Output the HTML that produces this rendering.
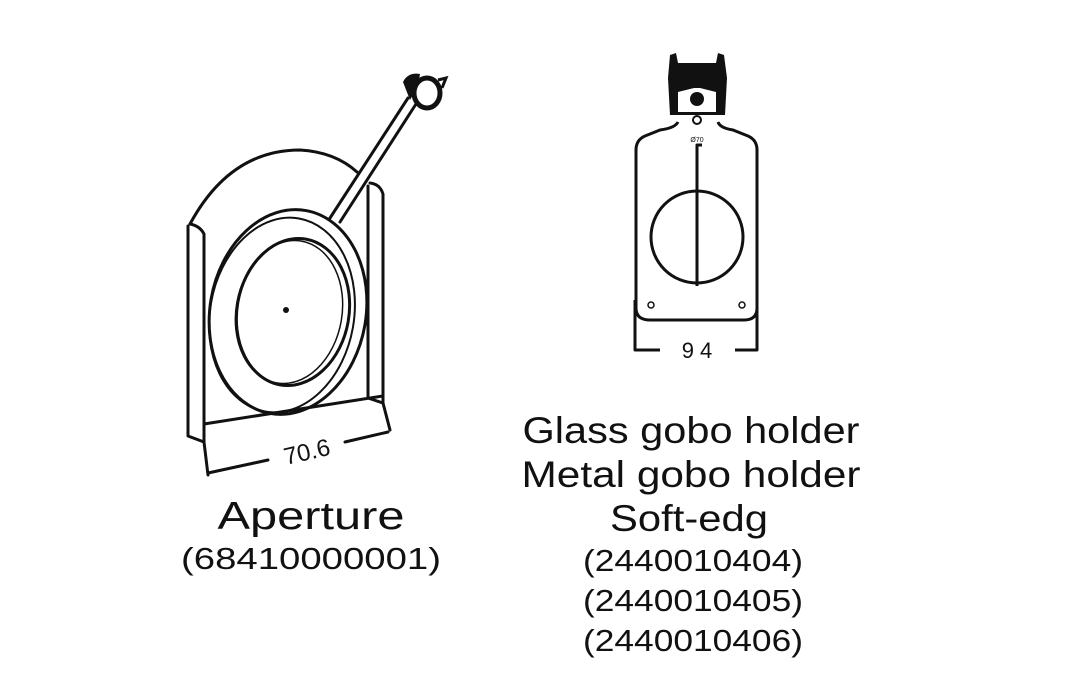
<!DOCTYPE html>
<html><head><meta charset="utf-8"><style>
html,body{margin:0;padding:0;background:#fff;}
svg{display:block;}
text{font-family:"Liberation Sans",sans-serif;fill:#111;}
</style></head><body>
<svg width="1067" height="680" viewBox="0 0 1067 680" xmlns="http://www.w3.org/2000/svg">
<g fill="none" stroke="#111" stroke-width="3" stroke-linejoin="round" stroke-linecap="round">
  <path d="M190,224 Q230,150 300,150 Q335,152 357,172"/>
  <path d="M188,226 L188,436 L204,442 L204,234 Q200,226 190,224"/>
  <path d="M368,186 L368,398 L383,403 L383,194 Q380,184 370,183"/>
  <path d="M204,424 L383,396"/>
  <ellipse cx="288" cy="312" rx="78" ry="103" transform="rotate(10 288 312)"/>
  <ellipse cx="282" cy="315" rx="72" ry="98" transform="rotate(10 282 315)" stroke-width="2"/>
  <ellipse cx="293" cy="312" rx="56" ry="74" transform="rotate(10 293 312)"/>
  <ellipse cx="289" cy="312" rx="53" ry="72" transform="rotate(10 289 312)" stroke-width="1.5"/>
  <path d="M330,218 L408,98"/>
  <path d="M340,222 L416,104"/>
  <path d="M204,442 L208,475"/>
  <path d="M383,403 L390,430"/>
  <path d="M208,473 L268,460"/>
  <path d="M345,442 L388,432"/>
</g>
<circle cx="286" cy="310" r="3" fill="#111"/>
<path d="M403,82 Q408,72 420,74 L418,86 L410,100 Z" fill="#111"/>
<ellipse cx="427" cy="93" rx="13" ry="15" fill="none" stroke="#111" stroke-width="5"/>
<path d="M438,80 L446,78 L442,88" fill="none" stroke="#111" stroke-width="3"/>
<text x="307" y="460" font-size="24" text-anchor="middle" transform="rotate(-13 307 452)">70.6</text>

<g fill="none" stroke="#111" stroke-width="3" stroke-linejoin="round">
  <path d="M678,122 Q675,128 660,130 L645,136 Q636,140 636,150 L636,308 Q636,320 650,320 L744,320 Q757,320 757,308 L757,150 Q757,140 748,136 L733,130 Q720,128 718,122"/>
  <circle cx="697" cy="237" r="46"/>
  <path d="M697,286 L697,145 L702,145"/>
  <path d="M635,300 L635,350 L660,350 M735,350 L757,350 L757,300"/>
</g>
<circle cx="651" cy="305" r="3" fill="none" stroke="#111" stroke-width="1.5"/>
<circle cx="742" cy="305" r="3" fill="none" stroke="#111" stroke-width="1.5"/>
<path d="M670,55 L676,53 L678,63 L716,63 L718,53 L724,55 L727,78 L725,115 L670,115 L668,78 Z" fill="#111"/>
<path d="M678,92 L694,88 L700,88 L716,92 L716,112 L678,112 Z" fill="#fff"/>
<circle cx="697" cy="99" r="7" fill="#111"/>
<circle cx="697" cy="120" r="4" fill="#fff" stroke="#111" stroke-width="2"/>
<text x="697" y="142" font-size="7" text-anchor="middle">Ø70</text>
<text x="697" y="358" font-size="22" text-anchor="middle">9 4</text>

<text x="311" y="529" font-size="39" text-anchor="middle" textLength="187" lengthAdjust="spacingAndGlyphs">Aperture</text>
<text x="311" y="569" font-size="31" text-anchor="middle" textLength="260" lengthAdjust="spacingAndGlyphs">(68410000001)</text>
<text x="691" y="443" font-size="37" text-anchor="middle" textLength="337" lengthAdjust="spacingAndGlyphs">Glass gobo holder</text>
<text x="691" y="487" font-size="37" text-anchor="middle" textLength="339" lengthAdjust="spacingAndGlyphs">Metal gobo holder</text>
<text x="689" y="531" font-size="37" text-anchor="middle" textLength="158" lengthAdjust="spacingAndGlyphs">Soft-edg</text>
<text x="693" y="571" font-size="31" text-anchor="middle" textLength="220" lengthAdjust="spacingAndGlyphs">(2440010404)</text>
<text x="693" y="611" font-size="31" text-anchor="middle" textLength="220" lengthAdjust="spacingAndGlyphs">(2440010405)</text>
<text x="693" y="651" font-size="31" text-anchor="middle" textLength="220" lengthAdjust="spacingAndGlyphs">(2440010406)</text>
</svg>
</body></html>
